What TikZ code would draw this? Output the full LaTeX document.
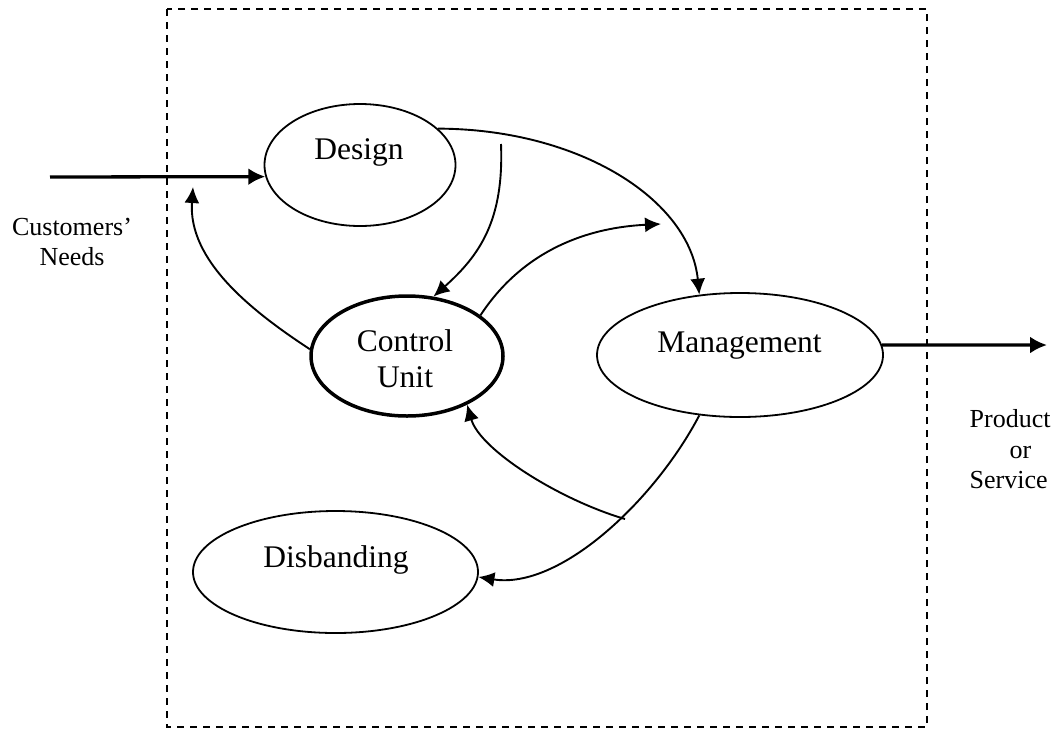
\documentclass[tikz,border=0pt]{standalone}
\usepackage{fontspec}
\setmainfont{Liberation Serif}
\usetikzlibrary{shapes.geometric,arrows.meta}
\begin{document}
\begin{tikzpicture}[x=1pt,y=-1pt,
  stage/.style={ellipse,draw,line width=1.8pt,inner sep=0pt},
  keystage/.style={stage,line width=3.5pt},
  lbl/.style={font=\fontsize{31.5}{36}\selectfont,inner sep=0pt},
  side/.style={font=\fontsize{26}{30.5}\selectfont,inner sep=0pt},
  flow/.style={line width=1.9pt,-{Latex[length=16pt,width=15pt]}},
  io/.style={line width=3.3pt,-{Latex[length=17pt,width=17pt]}},
  frame/.style={line width=1.6pt,dash pattern=on 7pt off 6pt}]
\useasboundingbox (0,0) rectangle (1056,729);

% organisation boundary
\draw[frame] (167,9) rectangle (927,727);

% stages
\node[stage,minimum width=191pt,minimum height=122pt] (design) at (360,165) {};
\node[keystage,minimum width=192pt,minimum height=120pt] (ctrl) at (407,356) {};
\node[stage,minimum width=286pt,minimum height=124pt] (mgmt) at (740,355) {};
\node[stage,minimum width=285pt,minimum height=122pt] (disb) at (335.5,572) {};

% stage labels
\node[lbl,anchor=base] (designtxt) at (359,159.5) {Design};
\node[lbl,align=center] (ctrltxt) at (405,359) {Control\\Unit};
\node[lbl,anchor=base] (mgmttxt) at (739.5,352) {Management};
\node[lbl,anchor=base] (disbtxt) at (336,567) {Disbanding};

% outside labels
\node[side,align=center] (needs) at (72,242) {Customers’\\Needs};
\node[side,align=left,anchor=north west] (product) at (969.5,409.5) {Product\\\hspace*{40pt}or\\Service};

% free ends of the connectors
\coordinate (cin) at (50,177);
\coordinate (cout) at (1047,345);
\coordinate (fbdesign) at (193,187);
\coordinate (tomgmt) at (661,224);
\coordinate (fromdesign) at (501,144);
\coordinate (frommgmt) at (625,519);

% input and output
\draw[io] (cin) -- (design.187);
\draw[io] (mgmt.4) -- (cout);

% internal flows
\draw[flow] (design.25) .. controls (580,129) and (690,200) .. (mgmt.124);
\draw[flow] (fromdesign) .. controls (504,220) and (480,255) .. (ctrl.66);
\draw[flow] (ctrl.176) .. controls (250,310) and (188,260) .. (fbdesign);
\draw[flow] (ctrl.29) .. controls (520,255) and (580,228) .. (tomgmt);
\draw[flow] (frommgmt) .. controls (560,500) and (480,450) .. (ctrl.-39);
\draw[flow] (mgmt.236) .. controls (655,500) and (560,590) .. (disb.-2);
\end{tikzpicture}
\end{document}
